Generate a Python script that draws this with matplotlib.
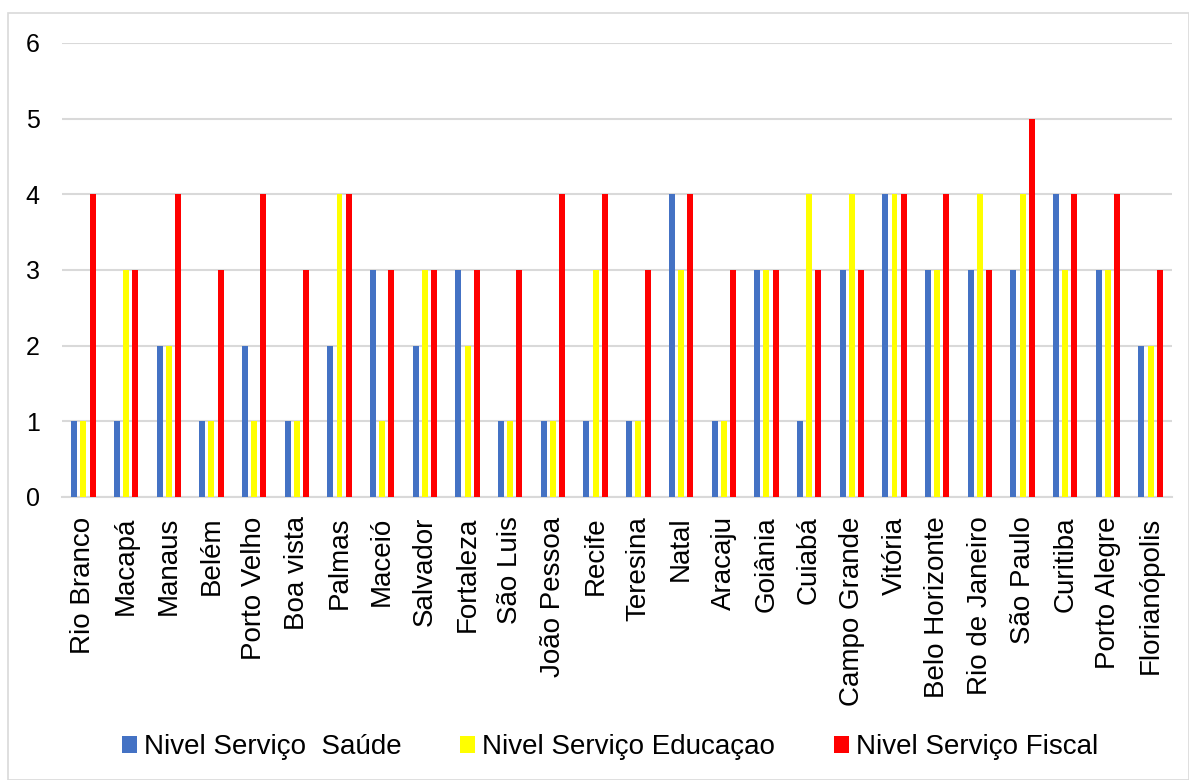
import matplotlib
matplotlib.use("Agg")
import matplotlib.pyplot as plt
import numpy as np
from matplotlib.patches import Rectangle

cities = ["Rio Branco", "Macapá", "Manaus", "Belém", "Porto Velho", "Boa vista",
          "Palmas", "Maceió", "Salvador", "Fortaleza", "São Luis", "João Pessoa",
          "Recife", "Teresina", "Natal", "Aracaju", "Goiânia", "Cuiabá",
          "Campo Grande", "Vitória", "Belo Horizonte", "Rio de Janeiro",
          "São Paulo", "Curitiba", "Porto Alegre", "Florianópolis"]
saude = [1, 1, 2, 1, 2, 1, 2, 3, 2, 3, 1, 1, 1, 1, 4, 1, 3, 1, 3, 4, 3, 3, 3, 4, 3, 2]
educacao = [1, 3, 2, 1, 1, 1, 4, 1, 3, 2, 1, 1, 3, 1, 3, 1, 3, 4, 4, 4, 3, 4, 4, 3, 3, 2]
fiscal = [4, 3, 4, 3, 4, 3, 4, 3, 3, 3, 3, 4, 4, 3, 4, 3, 3, 3, 3, 4, 4, 3, 5, 4, 4, 3]
series_names = ["Nivel Serviço  Saúde", "Nivel Serviço Educaçao", "Nivel Serviço Fiscal"]
colors = ["#4472C4", "#FFFF00", "#FF0000"]

plt.rcParams['font.family'] = ['Liberation Sans', 'DejaVu Sans']

fig = plt.figure(figsize=(11.89, 7.8), dpi=100)
fig.patches.append(Rectangle((8/1189, 0), 1 - 8/1189, 1 - 13/780, transform=fig.transFigure,
                             fill=False, edgecolor="#d9d9d9", linewidth=1.2))
ax = fig.add_axes([62/1189, 1 - 497/780, (1172 - 62)/1189, (497 - 43)/780])

x = np.arange(len(cities))
step = 0.215
width = 0.14
for i, (vals, c, name) in enumerate(zip([saude, educacao, fiscal], colors, series_names)):
    ax.bar(x + (i - 1) * step, vals, width=width, color=c, label=name, zorder=3)

ax.set_xlim(-0.5, len(cities) - 0.5)
ax.set_ylim(0, 6)
ax.set_yticks(range(0, 7))
ax.yaxis.grid(True, color="#d9d9d9", linewidth=1.5, zorder=0)
ax.set_axisbelow(True)
for s in ["top", "right", "left"]:
    ax.spines[s].set_visible(False)
ax.spines["bottom"].set_color("#d9d9d9")
ax.spines["bottom"].set_linewidth(1.5)
ax.tick_params(axis="both", length=0, colors="black")
ax.tick_params(axis="y", pad=16, labelsize=18)
ax.tick_params(axis="x", pad=14)
ax.set_xticks(x)
ax.set_xticklabels(cities, rotation=90, fontsize=20)

fig.legend(loc="center", bbox_to_anchor=(610/1189, 1 - 747/780), ncol=3, frameon=False,
           fontsize=20, handlelength=0.55, handleheight=0.55, handletextpad=0.25,
           columnspacing=2.1)

fig.savefig("out.png", dpi=100)
